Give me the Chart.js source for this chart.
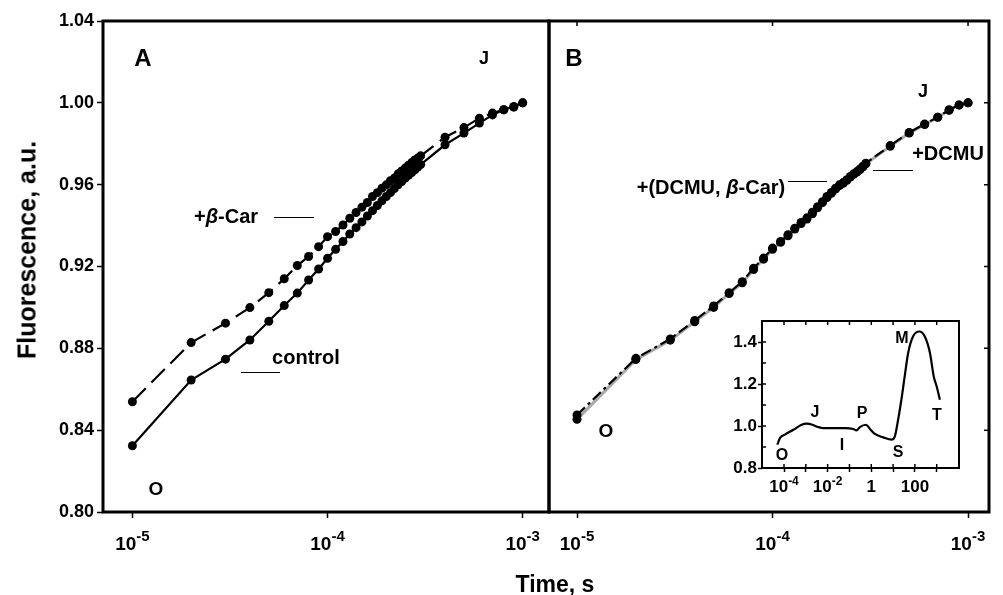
<!DOCTYPE html>
<html><head><meta charset="utf-8">
<script src="https://cdn.jsdelivr.net/npm/chart.js@4"></script>
<style>
body{margin:0;background:#fff;width:1003px;height:595px;overflow:hidden;position:relative;font-family:'Liberation Sans',Arial,Helvetica,sans-serif;font-weight:bold;color:#000}
canvas{position:absolute}
.t{position:absolute;transform:translate(-50%,-50%);white-space:nowrap;line-height:1}
.ln{position:absolute;height:0;border-top:1.5px solid #000}
</style></head><body>
<canvas id="cA" width="560" height="595" style="left:0;top:0"></canvas>
<canvas id="cB" width="463" height="595" style="left:540px;top:0"></canvas>
<canvas id="cI" width="270" height="200" style="left:700px;top:300px"></canvas>

<div class="t" style="left:27px;top:250px;font-size:25px;transform:translate(-50%,-50%) rotate(-90deg)">Fluorescence, a.u.</div>
<div class="t" style="left:555px;top:584px;font-size:23px">Time, s</div>

<div class="t" style="left:143px;top:58px;font-size:24px">A</div>
<div class="t" style="left:484px;top:58px;font-size:18px">J</div>
<div class="t" style="left:226px;top:216px;font-size:20px">+<i>β</i>-Car</div>
<div class="ln" style="left:274px;top:217px;width:40px"></div>
<div class="t" style="left:306px;top:357px;font-size:20px">control</div>
<div class="ln" style="left:241px;top:372px;width:39px"></div>
<div class="t" style="left:156px;top:488px;font-size:19px">O</div>

<div class="t" style="left:574px;top:58px;font-size:24px">B</div>
<div class="t" style="left:923px;top:91px;font-size:18px">J</div>
<div class="t" style="left:948px;top:153px;font-size:20px">+DCMU</div>
<div class="ln" style="left:873px;top:170px;width:40px"></div>
<div class="t" style="left:711px;top:187px;font-size:20px">+(DCMU, <i>β</i>-Car)</div>
<div class="ln" style="left:788px;top:181px;width:39px"></div>
<div class="t" style="left:606px;top:430px;font-size:19px">O</div>

<div class="t" style="left:782px;top:455px;font-size:16px">O</div>
<div class="t" style="left:815px;top:412px;font-size:16px">J</div>
<div class="t" style="left:842px;top:445px;font-size:16px">I</div>
<div class="t" style="left:862px;top:413px;font-size:16px">P</div>
<div class="t" style="left:898px;top:452px;font-size:16px">S</div>
<div class="t" style="left:902px;top:338px;font-size:16px">M</div>
<div class="t" style="left:937px;top:415px;font-size:16px">T</div>

<script>
// ---------- data ----------
const timeS = [1e-5,2e-5,3e-5,4e-5,5e-5,6e-5,7e-5,8e-5,9e-5,1.0e-4,1.1e-4,1.2e-4,1.3e-4,1.4e-4,1.5e-4,1.6e-4,1.7e-4,1.8e-4,1.9e-4,2.0e-4,2.1e-4,2.2e-4,2.3e-4,2.4e-4,2.5e-4,2.6e-4,2.7e-4,2.8e-4,2.9e-4,3.0e-4,4e-4,5e-4,6e-4,7e-4,8e-4,9e-4,1e-3];
const controlA = [0.8324,0.8645,0.8747,0.8841,0.8932,0.9009,0.9070,0.9134,0.9188,0.9240,0.9284,0.9322,0.9359,0.9390,0.9418,0.9447,0.9473,0.9498,0.9521,0.9542,0.9561,0.9581,0.9599,0.9615,0.9632,0.9646,0.9659,0.9672,0.9686,0.9698,0.9795,0.9852,0.9901,0.9941,0.9966,0.9982,1.0000];
const betaCarA = [0.8539,0.8828,0.8923,0.8999,0.9072,0.9140,0.9205,0.9249,0.9297,0.9346,0.9371,0.9403,0.9436,0.9464,0.9490,0.9513,0.9542,0.9561,0.9583,0.9599,0.9619,0.9632,0.9653,0.9667,0.9681,0.9695,0.9708,0.9721,0.9730,0.9741,0.9832,0.9879,0.9925,0.9950,0.9966,0.9979,1.0000];
const dcmuB = [0.8474,0.8751,0.8846,0.8936,0.9007,0.9072,0.9126,0.9192,0.9241,0.9290,0.9322,0.9355,0.9387,0.9415,0.9438,0.9465,0.9492,0.9517,0.9542,0.9562,0.9583,0.9599,0.9610,0.9624,0.9640,0.9653,0.9664,0.9676,0.9690,0.9705,0.9791,0.9855,0.9896,0.9930,0.9966,0.9990,1.0000];
const dcmuBetaCarB = [0.8453,0.8745,0.8840,0.8930,0.9000,0.9068,0.9120,0.9185,0.9236,0.9284,0.9318,0.9350,0.9383,0.9410,0.9432,0.9458,0.9487,0.9512,0.9537,0.9558,0.9578,0.9595,0.9607,0.9621,0.9637,0.9650,0.9661,0.9673,0.9687,0.9702,0.9788,0.9852,0.9894,0.9929,0.9964,0.9989,1.0000];

const xTickValues = [1e-5,1e-4,1e-3];
const xTickBase = ['10','10','10'];
const xTickExp = ['-5','-4','-3'];
const yTickValues = [0.80,0.84,0.88,0.92,0.96,1.00,1.04];

const insetTime = [4.9e-5,6.6e-5,1.1e-4,2.7e-4,6.4e-4,1.1e-3,2.0e-3,3.7e-3,6.3e-3,1.8e-2,6.2e-2,0.15,0.21,0.30,0.57,0.87,1.46,3.5,8.6,12,17,24,34,49,83,160,280,490,730,990,1400];
const insetF = [0.911,0.943,0.959,0.982,1.006,1.011,1.006,0.995,0.990,0.990,0.990,0.986,0.979,0.995,1.006,0.986,0.962,0.946,0.935,0.950,1.030,1.125,1.236,1.348,1.427,1.450,1.427,1.348,1.236,1.189,1.125];
const insetXTickValues = [1e-4,1e-3,1e-2,1e-1,1,10,100,1000];
const insetXLabelValues = [1e-4,1e-2,1,100];
const insetXLabelBase = ['10','10','1','100'];
const insetXLabelExp = ['-4','-2','',''];
const insetYTickValues = [0.8,0.9,1.0,1.1,1.2,1.3,1.4,1.5];
const insetYLabels = ['0.8','1.0','1.2','1.4'];

// ---------- helpers ----------
const FAM = "'Liberation Sans', Arial, Helvetica, sans-serif";
Chart.defaults.font.family = FAM;
Chart.defaults.font.weight = 'bold';
Chart.defaults.color = '#000';
Chart.defaults.animation = false;

const pts = (xs, ys) => xs.map((x, i) => ({x: x, y: ys[i]}));
const setTicks = vals => s => { s.ticks = vals.map(v => ({value: v})); };

function drawPow(ctx, x, yBase, base, exp, fs, efs, rise) {
  ctx.font = 'bold ' + fs + 'px ' + FAM;
  const wb = ctx.measureText(base).width;
  ctx.font = 'bold ' + efs + 'px ' + FAM;
  const we = exp ? ctx.measureText(exp).width : 0;
  const x0 = x - (wb + we) / 2;
  ctx.textAlign = 'left'; ctx.textBaseline = 'alphabetic'; ctx.fillStyle = '#000';
  ctx.font = 'bold ' + fs + 'px ' + FAM;
  ctx.fillText(base, x0, yBase);
  if (exp) { ctx.font = 'bold ' + efs + 'px ' + FAM; ctx.fillText(exp, x0 + wb, yBase - rise); }
}

const framePlugin = {
  id: 'frame',
  afterDraw(chart, args, o) {
    const ctx = chart.ctx, a = chart.chartArea, xs = chart.scales.x, ys = chart.scales.y;
    ctx.save();
    ctx.strokeStyle = '#000';
    ctx.lineWidth = o.tickWidth || 1.5;
    const L = o.len || 6;
    ctx.beginPath();
    (o.inTop || []).forEach(v => { const x = xs.getPixelForValue(v); ctx.moveTo(x, a.top); ctx.lineTo(x, a.top + L); });
    (o.inBottom || []).forEach(v => { const x = xs.getPixelForValue(v); ctx.moveTo(x, a.bottom); ctx.lineTo(x, a.bottom - L); });
    (o.inRight || []).forEach(v => { const y = ys.getPixelForValue(v); ctx.moveTo(a.right, y); ctx.lineTo(a.right - L, y); });
    (o.inLeft || []).forEach(v => { const y = ys.getPixelForValue(v); ctx.moveTo(a.left, y); ctx.lineTo(a.left + L, y); });
    ctx.stroke();
    ctx.lineWidth = o.width || 3;
    ctx.strokeRect(a.left, a.top, a.right - a.left, a.bottom - a.top);
    if (o.pow) {
      o.pow.values.forEach((v, i) => {
        drawPow(ctx, xs.getPixelForValue(v), a.bottom + o.pow.dy, o.pow.base[i], o.pow.exp[i], o.pow.fs, o.pow.efs, o.pow.rise);
      });
    }
    ctx.restore();
  }
};

const tickGrid = (len, w) => ({display: true, drawOnChartArea: false, drawTicks: true, tickLength: len, tickColor: '#000', tickWidth: w, color: '#000'});

function mainX(min, max) {
  return {
    type: 'logarithmic', min: min, max: max,
    afterBuildTicks: setTicks(xTickValues),
    ticks: {display: false},
    grid: tickGrid(6, 1.5),
    border: {display: false},
    afterFit: s => { s.height = 83; }
  };
}
const powMain = {values: xTickValues, base: xTickBase, exp: xTickExp, dy: 38, fs: 19, efs: 15, rise: 9};

// ---------- panel A ----------
new Chart(document.getElementById('cA'), {
  type: 'line',
  data: {datasets: [
    {label: 'control', data: pts(timeS, controlA), borderColor: '#000', borderWidth: 2.2, pointRadius: 4.5, pointBackgroundColor: '#000', pointBorderWidth: 0, tension: 0, clip: false},
    {label: '+β-Car', data: pts(timeS, betaCarA), borderColor: '#000', borderWidth: 2.2, borderDash: [19, 8], pointRadius: 4.5, pointBackgroundColor: '#000', pointBorderWidth: 0, tension: 0, clip: false}
  ]},
  options: {
    responsive: false, animation: false,
    layout: {padding: {left: 0, right: 11, top: 21, bottom: 0}},
    plugins: {legend: {display: false}, tooltip: {enabled: false},
      frame: {width: 3, pow: powMain}},
    scales: {
      x: mainX(7.07e-6, 1.364e-3),
      y: {
        min: 0.80, max: 1.04,
        afterBuildTicks: setTicks(yTickValues),
        ticks: {callback: v => v.toFixed(2), font: {size: 18, weight: 'bold'}, color: '#000', padding: 3},
        grid: tickGrid(6, 1.5),
        border: {display: false},
        afterFit: s => { s.width = 103; }
      }
    }
  },
  plugins: [framePlugin]
});

// ---------- panel B ----------
new Chart(document.getElementById('cB'), {
  type: 'line',
  data: {datasets: [
    {label: '+DCMU', data: pts(timeS, dcmuB), borderColor: '#000', borderWidth: 2.2, borderDash: [11, 4, 3, 4], pointRadius: 4.5, pointBackgroundColor: '#000', pointBorderWidth: 0, tension: 0, clip: false, order: 1},
    {label: '+(DCMU, β-Car)', data: pts(timeS, dcmuBetaCarB), borderColor: '#a9a9a9', borderWidth: 3, pointRadius: 4.5, pointBackgroundColor: '#000', pointBorderWidth: 0, tension: 0, clip: false, order: 2}
  ]},
  options: {
    responsive: false, animation: false,
    layout: {padding: {left: 9, right: 14, top: 21, bottom: 0}},
    plugins: {legend: {display: false}, tooltip: {enabled: false},
      frame: {width: 3, len: 5, inTop: xTickValues, inRight: yTickValues, pow: powMain}},
    scales: {
      x: mainX(7.19e-6, 1.28e-3),
      y: {display: false, min: 0.80, max: 1.04}
    }
  },
  plugins: [framePlugin]
});

// ---------- inset ----------
new Chart(document.getElementById('cI'), {
  type: 'line',
  data: {datasets: [
    {label: 'OJIPSMT', data: pts(insetTime, insetF), borderColor: '#000', borderWidth: 2.2, pointRadius: 0, cubicInterpolationMode: 'monotone', clip: false}
  ]},
  options: {
    responsive: false, animation: false,
    layout: {padding: {left: 0, right: 11, top: 21, bottom: 0}},
    plugins: {legend: {display: false}, tooltip: {enabled: false},
      frame: {width: 2, len: 4, inTop: insetXTickValues, inBottom: insetXTickValues, inLeft: insetYTickValues,
        pow: {values: insetXLabelValues, base: insetXLabelBase, exp: insetXLabelExp, dy: 24, fs: 17, efs: 12, rise: 7}}},
    scales: {
      x: {type: 'logarithmic', min: 9.8e-6, max: 1.05e4,
        afterBuildTicks: setTicks(insetXTickValues),
        ticks: {display: false},
        grid: tickGrid(4, 1.5), border: {display: false},
        afterFit: s => { s.height = 32; }},
      y: {min: 0.8, max: 1.5,
        afterBuildTicks: setTicks(insetYTickValues),
        ticks: {callback: v => { const l = v.toFixed(1); return insetYLabels.includes(l) ? l : ''; }, font: {size: 17, weight: 'bold'}, color: '#000', padding: 1},
        grid: tickGrid(4, 1.5), border: {display: false},
        afterFit: s => { s.width = 62; }}
    }
  },
  plugins: [framePlugin]
});
</script>
</body></html>
